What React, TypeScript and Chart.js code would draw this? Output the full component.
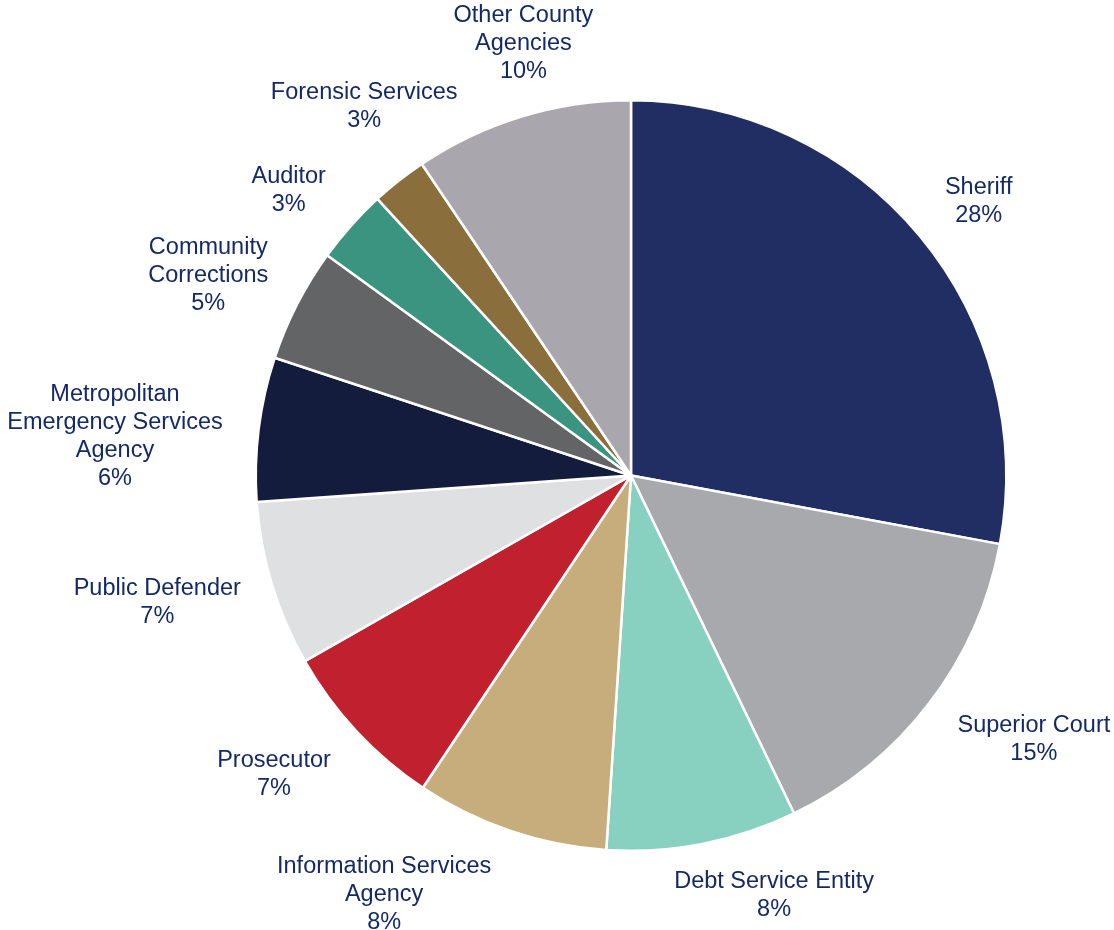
import React, { useEffect, useRef } from "react";
import { Chart, registerables } from "chart.js";

Chart.register(...registerables);

const categories = [
  "Sheriff",
  "Superior Court",
  "Debt Service Entity",
  "Information Services\nAgency",
  "Prosecutor",
  "Public Defender",
  "Metropolitan\nEmergency Services\nAgency",
  "Community\nCorrections",
  "Auditor",
  "Forensic Services",
  "Other County\nAgencies",
];

const shares = [27.9, 14.9, 8.2, 8.3, 7.4, 7.1, 6.2, 4.9, 3.2, 2.4, 9.4];

const percentLabels = ["28%", "15%", "8%", "8%", "7%", "7%", "6%", "5%", "3%", "3%", "10%"];

const sliceColors = [
  "#212E63",
  "#A8A9AD",
  "#88D1C1",
  "#C6AD7B",
  "#C1202F",
  "#DFE0E2",
  "#141C3D",
  "#636466",
  "#3A947F",
  "#8A6E3B",
  "#A9A7AD",
];

const LABEL_FONT = "23.5px 'Liberation Sans', Arial, sans-serif";
const LABEL_COLOR = "#13296A";
const LINE_H = 28;
const GAP = 34;

const outsideLabels = {
  id: "outsideLabels",
  afterDraw(chart: any, _args: any, opts: any) {
    const ctx = chart.ctx;
    const meta = chart.getDatasetMeta(0);
    const W = chart.width;
    const H = chart.height;
    const nudges: number[][] = opts.nudges || [];
    ctx.save();
    ctx.font = LABEL_FONT;
    ctx.fillStyle = LABEL_COLOR;
    ctx.textAlign = "center";
    ctx.textBaseline = "middle";
    meta.data.forEach((arc: any, i: number) => {
      const lines = categories[i].split("\n").concat([percentLabels[i]]);
      const w = Math.max(...lines.map((l) => ctx.measureText(l).width));
      const h = lines.length * LINE_H;
      const mid = (arc.startAngle + arc.endAngle) / 2;
      const r = arc.outerRadius + GAP;
      const ax = arc.x + Math.cos(mid) * r;
      const ay = arc.y + Math.sin(mid) * r;
      let cx = ax + Math.cos(mid) * (w / 2);
      let cy = ay + Math.sin(mid) * (h / 2);
      cx = Math.min(Math.max(cx, w / 2), W - w / 2);
      cy = Math.min(Math.max(cy, h / 2), H - h / 2);
      const n = nudges[i] || [0, 0];
      cx += n[0];
      cy += n[1];
      lines.forEach((l, k) => {
        ctx.fillText(l, cx, cy - h / 2 + LINE_H / 2 + k * LINE_H);
      });
    });
    ctx.restore();
  },
};

export default function App() {
  const ref = useRef<HTMLCanvasElement>(null);
  useEffect(() => {
    document.body.style.margin = "0";
    document.body.style.overflow = "hidden";
    const chart = new Chart(ref.current!, {
      type: "pie",
      data: {
        labels: categories,
        datasets: [
          {
            data: shares,
            backgroundColor: sliceColors,
            borderColor: "#FFFFFF",
            borderWidth: 2.5,
          },
        ],
      },
      options: {
        animation: false,
        responsive: false,
        layout: { padding: { top: 99, bottom: 78, left: 254, right: 106 } },
        plugins: {
          legend: { display: false },
          tooltip: { enabled: false },
          outsideLabels: {
            // label collision nudges (px), like Excel's label de-overlap
            nudges: [
              [7, 5],
              [17, -1],
              [46, -6],
              [-81, 7],
              [-16, 1],
              [-2, 0],
              [-3, 19],
              [-5, 6],
              [-9, 6],
              [44, -25],
              [32, 0],
            ],
          },
        } as any,
      },
      plugins: [outsideLabels],
    });
    return () => chart.destroy();
  }, []);
  return (
    <div style={{ width: 1114, height: 930, background: "#fff" }}>
      <canvas ref={ref} width={1114} height={930} style={{ display: "block" }} />
    </div>
  );
}
